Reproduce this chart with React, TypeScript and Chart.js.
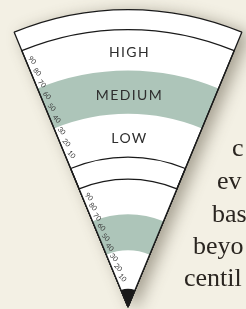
import React, { useEffect, useRef } from 'react';
import { Chart, registerables } from 'chart.js';

Chart.register(...registerables);

// ---- data ----
const tickValues = [10, 20, 30, 40, 50, 60, 70, 80, 90];
const bandNames = ['LOW', 'MEDIUM', 'HIGH'];
const topBandEdges = [0, 34, 68, 100];
const lowerMedium = [35, 68];
const sideText = ['c', 'ev', 'bas', 'beyo', 'centil'];

// ---- layout / style ----
const W = 246;
const H = 309;
const SIZE = 640;
const CX = 128;
const CY = 307;
const WEDGE = 45;
const TOP_MIN = -117.6;
const TOP_MAX = 133.4;
const RIM = 115.7;
const LOW_MIN = -16.7;
const LOW_MAX = 275.3;
const GREEN = '#adc5b9';
const LINE = '#1a1a1a';
const BG = '#f3f0e4';
const sideX = [232, 217, 212, 193, 184];
const sideBase = [157, 190, 223, 255, 287];

const ds = (axis: string, value: number, fill: string, border?: boolean) => ({
  data: [value],
  rAxisID: axis,
  angle: WEDGE,
  backgroundColor: fill,
  borderColor: border ? LINE : 'rgba(0,0,0,0)',
  borderWidth: border ? 1.3 : 0,
});

const overlay = {
  id: 'overlay',
  afterDatasetsDraw(chart: any) {
    const ctx = chart.ctx;
    for (const id of ['rTop', 'rLow']) {
      const s = chart.scales[id];
      ctx.save();
      ctx.font = '7px Lato';
      ctx.fillStyle = '#3a3a3a';
      ctx.textAlign = 'center';
      ctx.textBaseline = 'middle';
      s.ticks.forEach((t: any) => {
        const p = s.getPointPosition(0, s.getDistanceFromCenterForValue(t.value));
        const nx = Math.cos(p.angle + Math.PI / 2);
        const ny = Math.sin(p.angle + Math.PI / 2);
        ctx.save();
        ctx.translate(p.x + nx * 6, p.y + ny * 6);
        ctx.rotate(p.angle + Math.PI - 0.35);
        ctx.fillText(t.label, 0, 0);
        ctx.restore();
      });
      ctx.restore();
    }
    const s = chart.scales.rTop;
    ctx.save();
    ctx.font = '14px Lato';
    (ctx as any).letterSpacing = '1.4px';
    ctx.fillStyle = '#2e2e2e';
    ctx.textAlign = 'center';
    ctx.textBaseline = 'middle';
    bandNames.forEach((name, i) => {
      const mid = (topBandEdges[i] + topBandEdges[i + 1]) / 2;
      const r = s.getDistanceFromCenterForValue(mid);
      ctx.fillText(name, s.xCenter + 1.5, s.yCenter - r + 3);
    });
    ctx.restore();
  },
};

export default function App() {
  const ref = useRef<HTMLCanvasElement | null>(null);
  useEffect(() => {
    if (!ref.current) return;
    const setTicks = (scale: any) => {
      scale.ticks = tickValues.map((v) => ({ value: v }));
    };
    const radial = (min: number, max: number) => ({
      type: 'radialLinear',
      axis: 'r',
      min,
      max,
      startAngle: -WEDGE / 2,
      grid: { display: false },
      angleLines: { display: false },
      pointLabels: { display: false },
      ticks: { display: false, showLabelBackdrop: false },
      afterBuildTicks: setTicks,
    });
    const chart = new Chart(ref.current, {
      type: 'polarArea',
      data: {
        labels: ['centile'],
        datasets: [
          ds('rLow', 0, LINE),
          ds('rLow', 100, 'rgba(0,0,0,0)', true),
          ds('rLow', lowerMedium[0], '#ffffff'),
          ds('rLow', lowerMedium[1], GREEN),
          ds('rLow', 100, '#ffffff'),
          ds('rTop', 0, 'rgba(0,0,0,0)', true),
          ds('rTop', 100, 'rgba(0,0,0,0)', true),
          ds('rTop', RIM, 'rgba(0,0,0,0)', true),
          ds('rTop', topBandEdges[1], '#ffffff'),
          ds('rTop', topBandEdges[2], GREEN),
          ds('rTop', RIM, '#ffffff'),
        ] as any,
      },
      options: {
        responsive: false,
        animation: false,
        events: [],
        layout: { padding: 0 },
        plugins: { legend: { display: false }, tooltip: { enabled: false } },
        scales: {
          rTop: radial(TOP_MIN, TOP_MAX),
          rLow: radial(LOW_MIN, LOW_MAX),
        } as any,
      },
      plugins: [overlay],
    });
    return () => chart.destroy();
  }, []);

  return (
    <div
      style={{
        position: 'fixed',
        left: 0,
        top: 0,
        width: W,
        height: H,
        overflow: 'hidden',
        background: BG,
      }}
    >
      <canvas
        ref={ref}
        width={SIZE}
        height={SIZE}
        style={{
          position: 'absolute',
          left: CX - SIZE / 2,
          top: CY - SIZE / 2,
          width: SIZE,
          height: SIZE,
          filter: 'drop-shadow(7px 3px 8px rgba(60,50,30,0.42))',
        }}
      />
      {sideText.map((t, i) => (
        <div
          key={i}
          style={{
            position: 'absolute',
            left: sideX[i],
            top: sideBase[i] - 22,
            font: '26px "Liberation Serif"',
            lineHeight: '26px',
            color: '#2a2520',
            whiteSpace: 'nowrap',
          }}
        >
          {t}
        </div>
      ))}
    </div>
  );
}
